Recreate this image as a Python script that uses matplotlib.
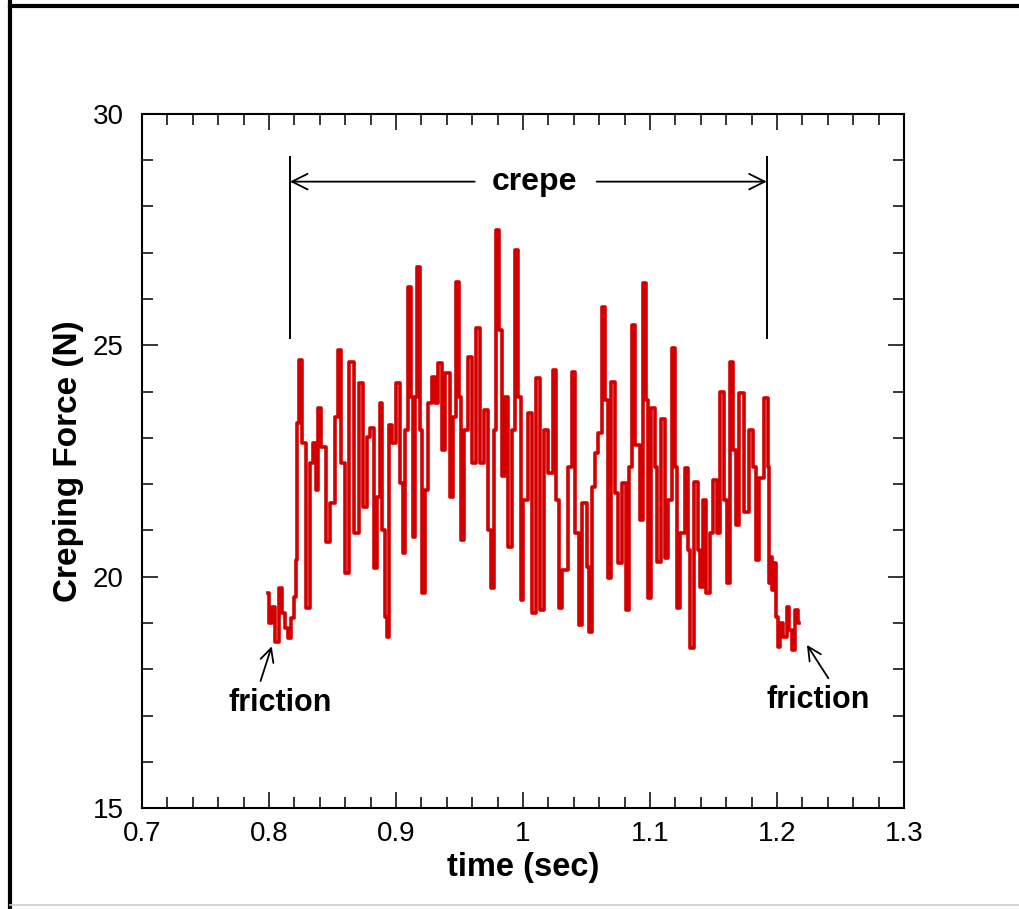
#Creping force vs time, with crepe / friction annotations
import numpy as np
import matplotlib.pyplot as plt
from matplotlib.lines import Line2D
from matplotlib.ticker import MultipleLocator

plt.rcParams['font.family'] = ['Liberation Sans', 'DejaVu Sans']

time = [0.7995, 0.8008, 0.8034, 0.8061, 0.8092, 0.8113, 0.8139, 0.8160, 0.8187, 0.8205,
        0.8213, 0.8223, 0.8244, 0.8270, 0.8310, 0.8336, 0.8362, 0.8375, 0.8396, 0.8428,
        0.8467, 0.8501, 0.8533, 0.8554, 0.8580, 0.8612, 0.8651, 0.8691, 0.8724, 0.8756,
        0.8782, 0.8814, 0.8835, 0.8861, 0.8880, 0.8900, 0.8921, 0.8932, 0.8953, 0.8984,
        0.9018, 0.9045, 0.9063, 0.9084, 0.9105, 0.9124, 0.9137, 0.9155, 0.9176, 0.9194,
        0.9215, 0.9242, 0.9268, 0.9299, 0.9320, 0.9346, 0.9373, 0.9404, 0.9439, 0.9465,
        0.9483, 0.9504, 0.9522, 0.9551, 0.9583, 0.9614, 0.9648, 0.9675, 0.9714, 0.9740,
        0.9758, 0.9780, 0.9798, 0.9819, 0.9845, 0.9872, 0.9898, 0.9924, 0.9950, 0.9971,
        0.9990, 1.0016, 1.0055, 1.0081, 1.0121, 1.0147, 1.0187, 1.0213, 1.0252, 1.0270,
        1.0291, 1.0331, 1.0370, 1.0396, 1.0428, 1.0449, 1.0488, 1.0514, 1.0533, 1.0554,
        1.0580, 1.0606, 1.0640, 1.0659, 1.0672, 1.0717, 1.0738, 1.0758, 1.0803, 1.0824,
        1.0848, 1.0869, 1.0900, 1.0935, 1.0961, 1.0974, 1.0994, 1.1026, 1.1047, 1.1065,
        1.1110, 1.1131, 1.1157, 1.1183, 1.1205, 1.1223, 1.1257, 1.1289, 1.1309, 1.1328,
        1.1368, 1.1388, 1.1407, 1.1425, 1.1459, 1.1486, 1.1512, 1.1538, 1.1572, 1.1598,
        1.1617, 1.1643, 1.1664, 1.1683, 1.1722, 1.1761, 1.1801, 1.1827, 1.1840, 1.1880,
        1.1919, 1.1932, 1.1950, 1.1958, 1.1971, 1.1984, 1.1998, 1.2018, 1.2037, 1.2063,
        1.2089, 1.2108, 1.2128, 1.2155, 1.2176]

force = [19.65, 19.01, 19.35, 18.60, 19.76, 19.22, 18.90, 18.68, 19.12, 19.57,
         20.37, 23.32, 24.68, 22.89, 19.33, 22.46, 22.89, 21.88, 23.65, 22.80,
         20.76, 21.60, 23.45, 24.90, 22.46, 20.09, 24.64, 20.95, 24.19, 21.51,
         23.02, 23.21, 20.20, 21.73, 23.75, 21.01, 19.14, 18.71, 23.27, 22.89,
         24.19, 22.03, 20.52, 23.17, 26.26, 23.88, 20.86, 23.88, 26.69, 23.17,
         19.65, 21.88, 23.75, 24.32, 23.75, 24.62, 22.74, 24.40, 21.73, 23.45,
         26.36, 23.88, 20.80, 23.17, 24.75, 22.46, 25.37, 22.46, 23.60, 21.01,
         19.76, 23.17, 27.49, 25.33, 22.17, 23.88, 20.65, 23.17, 27.05, 23.88,
         19.50, 21.66, 23.54, 19.22, 24.29, 19.29, 23.17, 22.24, 24.47, 21.66,
         19.33, 20.15, 22.37, 24.42, 20.95, 18.96, 21.60, 20.22, 18.81, 21.94,
         22.68, 23.11, 25.83, 23.82, 19.98, 24.21, 21.81, 20.30, 22.03, 19.29,
         22.37, 25.44, 22.85, 21.23, 26.34, 23.82, 19.55, 23.65, 22.37, 20.32,
         23.41, 20.41, 21.66, 24.94, 22.37, 19.33, 20.95, 22.35, 20.58, 18.47,
         22.05, 20.58, 19.78, 21.66, 19.65, 20.95, 22.10, 20.95, 23.99, 21.66,
         19.87, 24.64, 22.74, 21.12, 23.96, 21.40, 23.17, 22.37, 20.37, 22.14,
         23.86, 22.37, 19.87, 20.43, 19.72, 20.30, 19.14, 18.49, 19.01, 18.71,
         19.35, 18.86, 18.42, 19.29, 19.01]

#Annotation positions (data units)
crepe_start, crepe_end = 0.8165, 1.1919
crepe_top, crepe_bottom, crepe_arrow_y = 29.07, 25.16, 28.53
crepe_text_x, crepe_gap_left, crepe_gap_right = 1.0090, 0.9620, 1.0580

fig = plt.figure(figsize=(10.19, 9.09), dpi=100)
ax = fig.add_axes([0.1394, 0.1106, 0.7477, 0.7645])

ax.plot(time, force, color='#d40000', lw=2.6, drawstyle='steps-mid')

ax.set_xlim(0.7, 1.3)
ax.set_ylim(15, 30)
ax.xaxis.set_minor_locator(MultipleLocator(0.02))
ax.yaxis.set_major_locator(MultipleLocator(5))
ax.yaxis.set_minor_locator(MultipleLocator(1))
ax.set_xticks([0.7, 0.8, 0.9, 1.0, 1.1, 1.2, 1.3])
ax.set_xticklabels(['0.7', '0.8', '0.9', '1', '1.1', '1.2', '1.3'])
ax.tick_params(which='both', direction='in', top=True, right=True, width=1.1, colors='black')
ax.tick_params(which='major', length=11.5, labelsize=20)
ax.tick_params(which='minor', length=8)
ax.tick_params(axis='x', which='major', pad=9)
ax.tick_params(axis='y', which='major', pad=13)
for s in ax.spines.values():
    s.set_linewidth(1.5)

ax.set_xlabel('time (sec)', fontsize=23.5, fontweight='bold')
ax.set_ylabel('Creping Force (N)', fontsize=24, fontweight='bold')
ax.xaxis.set_label_coords(0.5, -0.0856)
ax.xaxis.label.set_va('center')
ax.yaxis.set_label_coords(-0.097, 0.5)
ax.yaxis.label.set_va('center')

#crepe bracket
ax.plot([crepe_start, crepe_start], [crepe_bottom, crepe_top], color='black', lw=1.4)
ax.plot([crepe_end, crepe_end], [crepe_bottom, crepe_top], color='black', lw=1.4)
ax.annotate('', xy=(crepe_start, crepe_arrow_y), xytext=(crepe_gap_left, crepe_arrow_y),
            arrowprops=dict(arrowstyle='->', color='black', lw=1.3, mutation_scale=28, shrinkA=0, shrinkB=0))
ax.annotate('', xy=(crepe_end, crepe_arrow_y), xytext=(crepe_gap_right, crepe_arrow_y),
            arrowprops=dict(arrowstyle='->', color='black', lw=1.3, mutation_scale=28, shrinkA=0, shrinkB=0))
ax.text(crepe_text_x, crepe_arrow_y, 'crepe', fontsize=23, fontweight='bold', ha='center', va='center')

#friction labels
ax.annotate('friction', xy=(0.8021, 18.50), xytext=(0.8087, 17.28),
            fontsize=22, fontweight='bold', ha='center', va='center',
            arrowprops=dict(arrowstyle='->', color='black', lw=1.3, mutation_scale=24,
                            shrinkA=3, shrinkB=0, relpos=(0.29, 1.0)))
ax.annotate('friction', xy=(1.2236, 18.53), xytext=(1.2323, 17.35),
            fontsize=22, fontweight='bold', ha='center', va='center',
            arrowprops=dict(arrowstyle='->', color='black', lw=1.3, mutation_scale=24,
                            shrinkA=3, shrinkB=0, relpos=(0.64, 1.0)))

#picture frame
fig.add_artist(Line2D([0.0098, 0.0098], [0, 1], transform=fig.transFigure, color='black', lw=3))
fig.add_artist(Line2D([0.0098, 1], [0.9934, 0.9934], transform=fig.transFigure, color='black', lw=3))
fig.add_artist(Line2D([0.0098, 1], [0.0044, 0.0044], transform=fig.transFigure, color='#cccccc', lw=1.2))

fig.savefig('out.png', dpi=100)
